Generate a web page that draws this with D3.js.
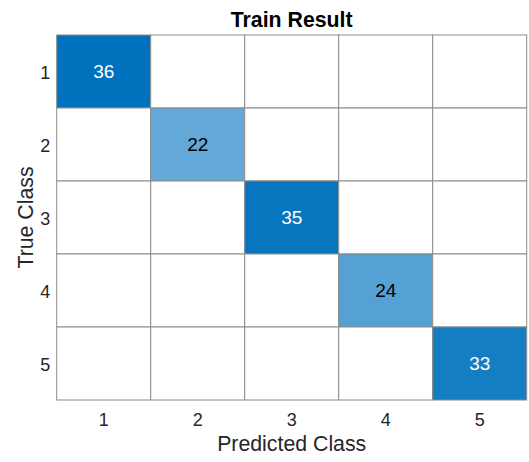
<!DOCTYPE html>
<html>
<head>
<meta charset="utf-8">
<script src="https://cdn.jsdelivr.net/npm/d3@7"></script>
<style>
  html, body { margin: 0; padding: 0; background: #fff; }
  svg { display: block; font-family: "Liberation Sans", Arial, Helvetica, sans-serif; }
</style>
</head>
<body>
<svg id="chart" width="529" height="462"></svg>
<script>
// Confusion matrix of the training set
const classes = ["1", "2", "3", "4", "5"];
const trueLabels = ["1", "2", "3", "4", "5"];
const predictedLabels = ["1", "2", "3", "4", "5"];
const counts = [36, 22, 35, 24, 33]; // diagonal counts; all off-diagonal cells are zero

const titleText = "Train Result";
const xLabel = "Predicted Class";
const yLabel = "True Class";

const width = 529, height = 462;
const margin = { top: 35, right: 2.3, bottom: 62, left: 56.7 };

const svg = d3.select("#chart");

const x = d3.scaleBand().domain(predictedLabels).range([margin.left, width - margin.right]);
const y = d3.scaleBand().domain(trueLabels).range([margin.top, height - margin.bottom]);

const maxCount = d3.max(counts);
const color = d3.scaleLinear().domain([0, maxCount]).range(["#ffffff", "#0072BD"]);

// build full matrix cells
const cells = [];
trueLabels.forEach((t, i) => {
  predictedLabels.forEach((p, j) => {
    cells.push({ t, p, v: i === j ? counts[i] : 0 });
  });
});

const g = svg.append("g");

g.selectAll("rect.cell")
  .data(cells)
  .join("rect")
  .attr("class", "cell")
  .attr("x", d => x(d.p))
  .attr("y", d => y(d.t))
  .attr("width", x.bandwidth())
  .attr("height", y.bandwidth())
  .attr("fill", d => color(d.v))
  .attr("stroke", "#8c8c8c")
  .attr("stroke-width", 1);

g.selectAll("text.val")
  .data(cells.filter(d => d.v > 0))
  .join("text")
  .attr("class", "val")
  .attr("x", d => x(d.p) + x.bandwidth() / 2)
  .attr("y", d => y(d.t) + y.bandwidth() / 2)
  .attr("text-anchor", "middle")
  .attr("dy", "0.36em")
  .attr("font-size", 19)
  .attr("fill", d => d.v / maxCount > 0.75 ? "#ffffff" : "#000000")
  .text(d => d.v);

// axes (labels only, no tick marks)
const xAxis = svg.append("g")
  .attr("transform", `translate(0,${height - margin.bottom})`)
  .call(d3.axisBottom(x).tickSize(0).tickPadding(13).tickFormat((d, i) => classes[i]));
xAxis.select(".domain").remove();
xAxis.selectAll("text").attr("font-size", 18).attr("fill", "#262626").attr("font-family", null);

const yAxis = svg.append("g")
  .attr("transform", `translate(${margin.left},0)`)
  .call(d3.axisLeft(y).tickSize(0).tickPadding(6.5).tickFormat((d, i) => classes[i]));
yAxis.select(".domain").remove();
yAxis.selectAll("text").attr("font-size", 18).attr("dy", "0.41em").attr("fill", "#262626").attr("font-family", null);

// title
svg.append("text")
  .attr("x", (margin.left + width - margin.right) / 2)
  .attr("y", 27.3)
  .attr("text-anchor", "middle")
  .attr("font-size", 21.3)
  .attr("font-weight", "bold")
  .attr("fill", "#000")
  .text(titleText);

// axis titles
svg.append("text")
  .attr("x", (margin.left + width - margin.right) / 2)
  .attr("y", 450.5)
  .attr("text-anchor", "middle")
  .attr("font-size", 21.3)
  .attr("fill", "#262626")
  .text(xLabel);

svg.append("text")
  .attr("transform", `translate(33.3,${(margin.top + height - margin.bottom) / 2}) rotate(-90)`)
  .attr("text-anchor", "middle")
  .attr("font-size", 21.3)
  .attr("fill", "#262626")
  .text(yLabel);
</script>
</body>
</html>
